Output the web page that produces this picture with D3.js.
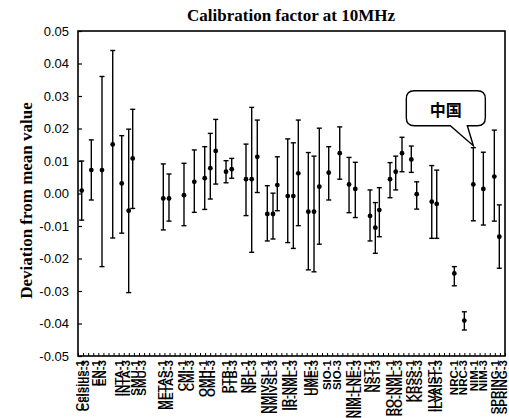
<!DOCTYPE html>
<html>
<head>
<meta charset="utf-8">
<script src="https://cdn.jsdelivr.net/npm/d3@7"></script>
<style>
  body { margin: 0; background: #fff; }
  text { fill: #000; }
</style>
</head>
<body>
<div id="chart"></div>
<script>
// Lab labels along the x axis and their positions (axis units)
var labNames = ["Celsius-1", "Celsius-3", "EN-1", "EN-3", "INTA-1", "INTA-3", "SMU-1", "SMU-3",
  "METAS-1", "METAS-3", "CMI-1", "CMI-3", "OMH-1", "OMH-3", "PTB-1", "PTB-3", "NPL-1", "NPL-3",
  "NMIVSL-1", "NMIVSL-3", "IR-NML-1", "IR-NML-3", "UME-1", "UME-3", "SIO-1", "SIO-3",
  "NIM-LNE-1", "NIM-LNE-3", "NST-1", "NST-3", "RO-NML-1", "RO-NML-3", "KRSS-1", "KRSS-3",
  "ILVAIST-1", "ILVAIST-3", "NRC-1", "NRC-3", "NIM-1", "NIM-3", "SPRING-1", "SPRING-3"];
var labPos = [0.39, 1.38, 3.54, 4.72, 8.07, 9.44, 11.21, 12.59, 16.52, 17.90, 20.46, 22.03,
  24.59, 26.16, 29.11, 30.49, 32.85, 34.23, 36.79, 38.36, 40.92, 42.30, 45.25, 46.43,
  48.98, 50.95, 53.51, 54.89, 57.05, 58.62, 61.38, 62.95, 65.31, 66.89, 69.64, 70.82,
  73.97, 75.74, 77.90, 79.67, 82.03, 83.61];

// measured points: position, deviation, upper and lower end of error bar
var pointX = [0.73, 2.62, 4.72, 6.83, 8.60, 9.97, 10.76, 16.78, 17.90, 20.85, 22.88, 24.93,
  26.03, 27.09, 29.12, 30.24, 33.05, 34.17, 35.27, 37.24, 38.36, 39.21, 41.26, 42.36,
  43.34, 45.31, 46.43, 47.47, 49.32, 51.49, 53.32, 54.55, 57.45, 58.49, 59.28, 61.38,
  62.50, 63.74, 65.57, 66.63, 69.59, 70.57, 74.03, 76.00, 77.77, 79.74, 81.90, 82.88];
var deviation = [0.0009, 0.0072, 0.0072, 0.0151, 0.0031, -0.0053, 0.0108, -0.0015, -0.0015, -0.0005,
  0.0036, 0.0047, 0.0078, 0.0131, 0.0067, 0.0075, 0.0044, 0.0044, 0.0113, -0.0063, -0.0063, 0.0026,
  -0.0008, -0.0008, 0.0062, -0.0056, -0.0056, 0.0021, 0.0064, 0.0124, 0.0028, 0.0014, -0.0069,
  -0.0105, -0.0051, 0.0044, 0.0067, 0.0124, 0.0105, -0.0002, -0.0025, -0.0032, -0.0246, -0.0391,
  0.0028, 0.0014, 0.0052, -0.0133];
var upper = [0.0100, 0.0165, 0.0360, 0.0440, 0.0178, 0.0198, 0.0259, 0.0091, 0.0060, 0.0093,
  0.0134, 0.0144, 0.0185, 0.0228, 0.0101, 0.0108, 0.0152, 0.0265, 0.0226, 0.0024, 0.0001, 0.0113,
  0.0168, 0.0156, 0.0226, 0.0126, 0.0115, 0.0201, 0.0144, 0.0205, 0.0111, 0.0096, 0.0011,
  -0.0028, 0.0018, 0.0095, 0.0115, 0.0173, 0.0146, 0.0036, 0.0086, 0.0072, -0.0225, -0.0364,
  0.0141, 0.0127, 0.0195, -0.0035];
var lower = [-0.0082, -0.0020, -0.0225, -0.0137, -0.0122, -0.0305, -0.0046, -0.0112, -0.0085, -0.0099,
  -0.0058, -0.0049, -0.0017, 0.0029, 0.0033, 0.0047, -0.0068, -0.0181, 0.0003, -0.0146, -0.0140,
  -0.0053, -0.0151, -0.0169, -0.0099, -0.0235, -0.0241, -0.0156, -0.0020, 0.0044, -0.0059, -0.0074,
  -0.0146, -0.0184, -0.0133, -0.0013, 0.0011, 0.0067, 0.0065, -0.0048, -0.0138, -0.0138, -0.0284,
  -0.0420, -0.0084, -0.0097, -0.0085, -0.0230];

var yTicks = [-0.05, -0.04, -0.03, -0.02, -0.01, 0, 0.01, 0.02, 0.03, 0.04, 0.05];
var chinaIndex = 44; // NIM-1, pointed at by the callout

var width = 509, height = 418;
var margin = { top: 31, right: 4, bottom: 62, left: 78 };

var svg = d3.select("#chart").append("svg")
  .attr("width", width)
  .attr("height", height);

var x = d3.scaleLinear().domain([0, 84]).range([margin.left, width - margin.right]);
var y = d3.scaleLinear().domain([-0.05, 0.05]).range([height - margin.bottom, margin.top]);

// title
svg.append("text")
  .attr("x", 291).attr("y", 21)
  .attr("text-anchor", "middle")
  .style("font-family", "'Liberation Serif', 'Times New Roman', serif")
  .style("font-weight", "bold")
  .style("font-size", "17px")
  .text("Calibration factor at 10MHz");

// y axis with inward ticks
var yAxis = d3.axisLeft(y)
  .tickValues(yTicks)
  .tickSizeInner(-4)
  .tickSizeOuter(0)
  .tickPadding(9)
  .tickFormat(function (d) { return d.toFixed(2); });

var gy = svg.append("g")
  .attr("transform", "translate(" + margin.left + ",0)")
  .call(yAxis);
gy.select(".domain").remove();
gy.selectAll("line").attr("stroke", "#000").attr("stroke-width", 1.2);
gy.selectAll("text")
  .style("font-family", "'Liberation Sans', Arial, sans-serif")
  .style("font-size", "13px");

// x axis: small inward ticks, lab names underneath
var xAxis = d3.axisBottom(x)
  .tickValues(d3.range(0, 85))
  .tickSizeInner(-3)
  .tickSizeOuter(0)
  .tickFormat("");
var gx = svg.append("g")
  .attr("transform", "translate(0," + y(-0.05) + ")")
  .call(xAxis);
gx.select(".domain").remove();
gx.selectAll("line").attr("stroke", "#000").attr("stroke-width", 1);

svg.append("g").selectAll("text")
  .data(labNames)
  .enter()
  .append("text")
  .attr("transform", function (d, i) {
    return "translate(" + x(labPos[i]) + "," + (y(-0.05) + 4) + ") rotate(-90)";
  })
  .attr("text-anchor", "end")
  .attr("dy", "0.35em")
  .style("font-family", "'Liberation Sans', Arial, sans-serif")
  .style("font-weight", "bold")
  .style("font-size", "11.5px")
  .text(function (d) { return d; });

// frame
svg.append("rect")
  .attr("x", x(0)).attr("y", y(0.05))
  .attr("width", x(84) - x(0))
  .attr("height", y(-0.05) - y(0.05))
  .attr("fill", "none")
  .attr("stroke", "#000")
  .attr("stroke-width", 1.6);

// y axis title
svg.append("text")
  .attr("transform", "translate(32," + ((y(0.05) + y(-0.05)) / 2 + 7) + ") rotate(-90)")
  .attr("text-anchor", "middle")
  .style("font-family", "'Liberation Serif', 'Times New Roman', serif")
  .style("font-weight", "bold")
  .style("font-size", "17px")
  .text("Deviation from mean value");

// error bars
var pts = pointX.map(function (px, i) {
  return { x: px, v: deviation[i], hi: upper[i], lo: lower[i] };
});

var bars = svg.append("g").selectAll("g.bar")
  .data(pts)
  .enter()
  .append("g")
  .attr("class", "bar");

bars.append("line")
  .attr("x1", function (d) { return x(d.x); })
  .attr("x2", function (d) { return x(d.x); })
  .attr("y1", function (d) { return y(d.hi); })
  .attr("y2", function (d) { return y(d.lo); })
  .attr("stroke", "#000")
  .attr("stroke-width", 1.4);

["hi", "lo"].forEach(function (k) {
  bars.append("line")
    .attr("x1", function (d) { return x(d.x) - 2.5; })
    .attr("x2", function (d) { return x(d.x) + 2.5; })
    .attr("y1", function (d) { return y(d[k]); })
    .attr("y2", function (d) { return y(d[k]); })
    .attr("stroke", "#000")
    .attr("stroke-width", 1.4);
});

bars.append("circle")
  .attr("cx", function (d) { return x(d.x); })
  .attr("cy", function (d) { return y(d.v); })
  .attr("r", 2.4)
  .attr("fill", "#000");

// callout for China
var ax = x(pointX[chinaIndex]), ay = y(upper[chinaIndex]) - 2;
var bx0 = ax - 67, bx1 = ax + 12, by0 = ay - 55, by1 = ay - 20, r = 8;
var path = d3.path();
path.moveTo(bx0 + r, by0);
path.lineTo(bx1 - r, by0);
path.quadraticCurveTo(bx1, by0, bx1, by0 + r);
path.lineTo(bx1, by1 - r);
path.quadraticCurveTo(bx1, by1, bx1 - r, by1);
path.lineTo(ax - 6, by1);
path.lineTo(ax, ay);
path.lineTo(ax - 23, by1);
path.lineTo(bx0 + r, by1);
path.quadraticCurveTo(bx0, by1, bx0, by1 - r);
path.lineTo(bx0, by0 + r);
path.quadraticCurveTo(bx0, by0, bx0 + r, by0);
path.closePath();

svg.append("path")
  .attr("d", path.toString())
  .attr("fill", "#fff")
  .attr("stroke", "#000")
  .attr("stroke-width", 1.4);

svg.append("text")
  .attr("x", (bx0 + bx1) / 2)
  .attr("y", by1 - 10)
  .attr("text-anchor", "middle")
  .style("font-family", "'Noto Sans CJK SC', sans-serif")
  .style("font-weight", "bold")
  .style("font-size", "16px")
  .text("中国");
</script>
</body>
</html>
